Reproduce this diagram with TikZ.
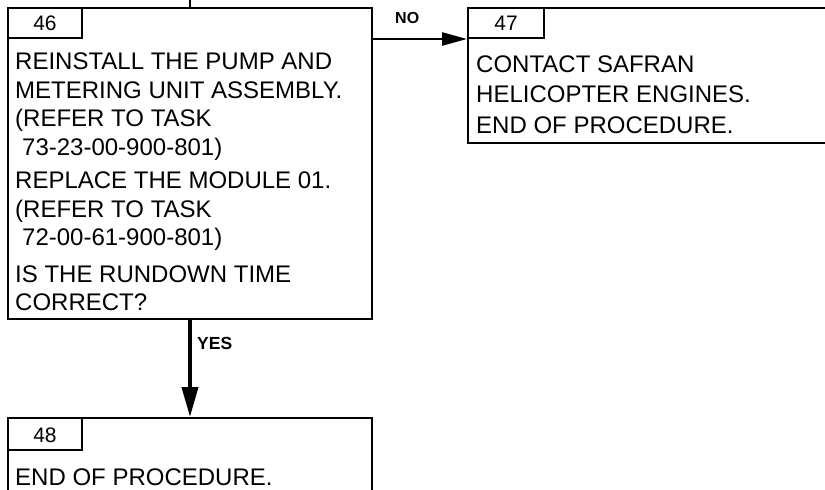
\documentclass[tikz,border=0pt]{standalone}
\usepackage{fontspec}
\setmainfont{Liberation Sans}
\usetikzlibrary{arrows.meta}
\begin{document}
\begin{tikzpicture}[x=1pt,y=-1pt,
  box/.style={draw,line width=2pt,rectangle,inner sep=0pt},
  txt/.style={anchor=base west,inner sep=0pt,font=\fontsize{24}{28}\selectfont},
  num/.style={anchor=base,inner sep=0pt,font=\fontsize{21}{25}\selectfont},
  lbl/.style={anchor=base west,inner sep=0pt,font=\bfseries\fontsize{16}{19}\selectfont},
  conn/.style={line width=#1},
  conn/.default=2pt]
\useasboundingbox (0,0) rectangle (825,490);
\clip (0,0) rectangle (825,490);

% box 46
\node[box,minimum width=364pt,minimum height=311pt] (b46) at (190,163.5) {};
\node[box,minimum width=74pt,minimum height=30pt] (t46) at (45,23) {};
\node[num] (n46) at (45,30) {46};
\node[txt] (l46a) at (15,69) {REINSTALL THE PUMP AND};
\node[txt] (l46b) at (15,98) {METERING UNIT ASSEMBLY.};
\node[txt] (l46c) at (15,126) {(REFER TO TASK};
\node[txt] (l46d) at (22,155) {73-23-00-900-801)};
\node[txt] (l46e) at (15,188) {REPLACE THE MODULE 01.};
\node[txt] (l46f) at (15,217) {(REFER TO TASK};
\node[txt] (l46g) at (22,245) {72-00-61-900-801)};
\node[txt] (l46h) at (15,282) {IS THE RUNDOWN TIME};
\node[txt] (l46i) at (15,310) {CORRECT?};

% box 47
\node[box,minimum width=372pt,minimum height=135pt] (b47) at (654,75.5) {};
\node[box,minimum width=76pt,minimum height=30pt] (t47) at (506,23) {};
\node[num] (n47) at (506,30) {47};
\node[txt] (l47a) at (476,72) {CONTACT SAFRAN};
\node[txt] (l47b) at (476,102) {HELICOPTER ENGINES.};
\node[txt] (l47c) at (476,133) {END OF PROCEDURE.};

% box 48
\node[box,minimum width=364pt,minimum height=100pt] (b48) at (190,468) {};
\node[box,minimum width=74pt,minimum height=32pt] (t48) at (45,434) {};
\node[num] (n48) at (45,442) {48};
\node[txt] (l48a) at (15,485) {END OF PROCEDURE.};

% connectors
\coordinate (in46) at (190,0);
\draw[conn] (in46) -- (b46.north);
\draw[conn=2.5pt,-{Triangle[length=25pt,width=13pt]}] (b46.east |- t47.south west) -- (t47.south west);
\draw[conn=4pt,-{Triangle[length=30pt,width=16pt]}] (b46.south) -- (b48.north);

% labels
\node[lbl] (no) at (395,23) {NO};
\node[lbl,font=\bfseries\fontsize{17.5}{20}\selectfont] (yes) at (197,349) {YES};
\end{tikzpicture}
\end{document}
